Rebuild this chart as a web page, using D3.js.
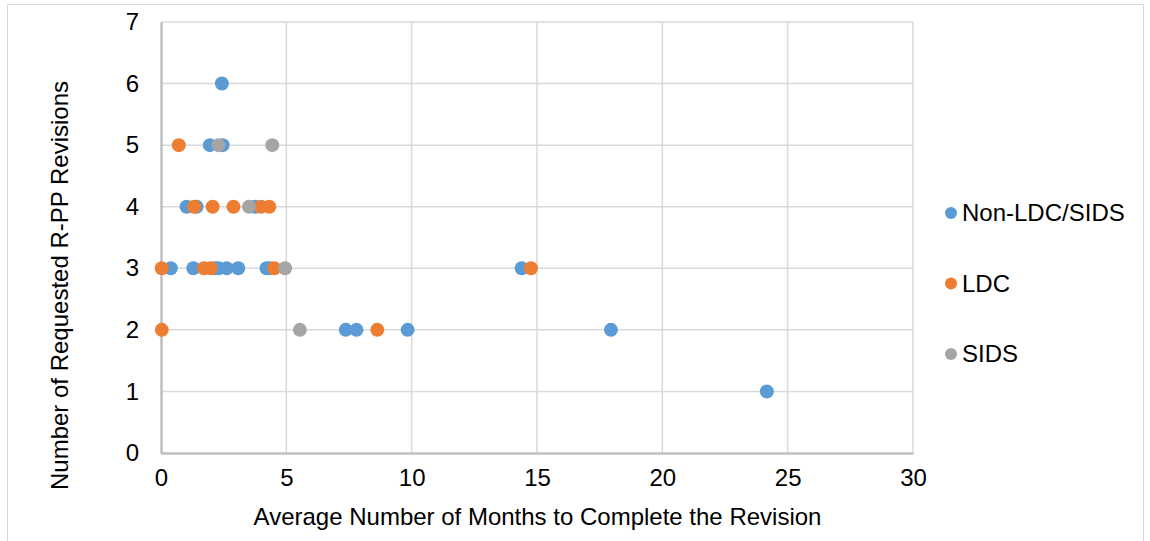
<!DOCTYPE html>
<html>
<head>
<meta charset="utf-8">
<script src="https://cdn.jsdelivr.net/npm/d3@7"></script>
<style>
  body { margin: 0; background: #fff; }
  text { font-family: "Liberation Sans", Arial, sans-serif; fill: #000; }
</style>
</head>
<body>
<svg width="1150" height="541"></svg>
<script>
// dati
var series_names = ["Non-LDC/SIDS", "LDC", "SIDS"];
var series_colors = ["#5b9bd5", "#ed7d31", "#a5a5a5"];

var nonldc_mesi = [2.43, 1.95, 2.46, 1.02, 1.42, 3.75, 0.39, 1.29, 2.15, 2.3, 2.62, 3.08, 4.21, 4.35, 14.39, 7.37, 7.8, 9.84, 17.95, 24.17];
var nonldc_rev  = [6, 5, 5, 4, 4, 4, 3, 3, 3, 3, 3, 3, 3, 3, 3, 2, 2, 2, 2, 1];

var ldc_mesi = [0.71, 1.32, 2.06, 2.89, 3.99, 4.32, 0.03, 1.72, 1.98, 4.52, 14.76, 0.03, 8.63];
var ldc_rev  = [5, 4, 4, 4, 4, 4, 3, 3, 3, 3, 3, 2, 2];

var sids_mesi = [2.29, 4.44, 3.51, 4.95, 5.54];
var sids_rev  = [5, 5, 4, 3, 2];

var x_ticks = [0, 5, 10, 15, 20, 25, 30];
var y_ticks = [0, 1, 2, 3, 4, 5, 6, 7];

var svg = d3.select("svg"),
    width = +svg.attr("width"),
    height = +svg.attr("height"),
    margine = {left: 161, right: 237, top: 22, bottom: 88},
    fs = 24;

// cornice esterna
svg.append("rect")
  .attr("x", 7.5).attr("y", 4.5)
  .attr("width", 1136).attr("height", 545)
  .attr("fill", "none").attr("stroke", "#d9d9d9");

var x = d3.scaleLinear().domain([0, 30]).range([margine.left, width - margine.right]);
var y = d3.scaleLinear().domain([0, 7]).range([height - margine.bottom, margine.top]);

var griglia = svg.append("g").attr("class", "griglia");
griglia.selectAll("line.gx")
  .data(x_ticks.slice(1))
  .enter().append("line")
  .attr("x1", function(d) { return x(d); }).attr("x2", function(d) { return x(d); })
  .attr("y1", y(0)).attr("y2", y(7))
  .attr("stroke", "#d9d9d9").attr("stroke-width", 1.5);
griglia.selectAll("line.gy")
  .data(y_ticks.slice(1))
  .enter().append("line")
  .attr("y1", function(d) { return y(d); }).attr("y2", function(d) { return y(d); })
  .attr("x1", x(0)).attr("x2", x(30))
  .attr("stroke", "#d9d9d9").attr("stroke-width", 1.5);

// assi
var asseX = svg.append("g")
  .attr("transform", "translate(0," + y(0) + ")")
  .call(d3.axisBottom(x).tickValues(x_ticks).tickFormat(d3.format("d")).tickSize(0).tickPadding(16));
var asseY = svg.append("g")
  .attr("transform", "translate(" + x(0) + ",0)")
  .call(d3.axisLeft(y).tickValues(y_ticks).tickFormat(d3.format("d")).tickSize(0).tickPadding(22));
[asseX, asseY].forEach(function(a) {
  a.attr("font-size", fs).attr("font-family", "Liberation Sans, Arial, sans-serif");
  a.select(".domain").attr("stroke", "#bfbfbf").attr("stroke-width", 2.5);
});

svg.append("text")
  .attr("x", (x(0) + x(30)) / 2 + 0.5).attr("y", 525)
  .attr("text-anchor", "middle").attr("font-size", fs)
  .text("Average Number of Months to Complete the Revision");

svg.append("text")
  .attr("transform", "translate(68,285.5) rotate(-90)")
  .attr("text-anchor", "middle").attr("font-size", fs)
  .text("Number of Requested R-PP Revisions");

// punti
var serie = [
  {mesi: nonldc_mesi, rev: nonldc_rev},
  {mesi: ldc_mesi, rev: ldc_rev},
  {mesi: sids_mesi, rev: sids_rev}
];
var punti = svg.append("g").attr("class", "punti");
serie.forEach(function(s, k) {
  punti.selectAll("circle.s" + k)
    .data(s.mesi)
    .enter().append("circle")
    .attr("class", "s" + k)
    .attr("cx", function(d) { return x(d); })
    .attr("cy", function(d, i) { return y(s.rev[i]); })
    .attr("r", 7)
    .attr("fill", series_colors[k]);
});

// legenda
var legenda = svg.append("g").attr("class", "legenda");
series_names.forEach(function(n, k) {
  var ly = 213 + k * 70.5;
  legenda.append("circle")
    .attr("cx", 951).attr("cy", ly).attr("r", 6)
    .attr("fill", series_colors[k]);
  legenda.append("text")
    .attr("x", 962).attr("y", ly + 8)
    .attr("font-size", fs)
    .text(n);
});
</script>
</body>
</html>
